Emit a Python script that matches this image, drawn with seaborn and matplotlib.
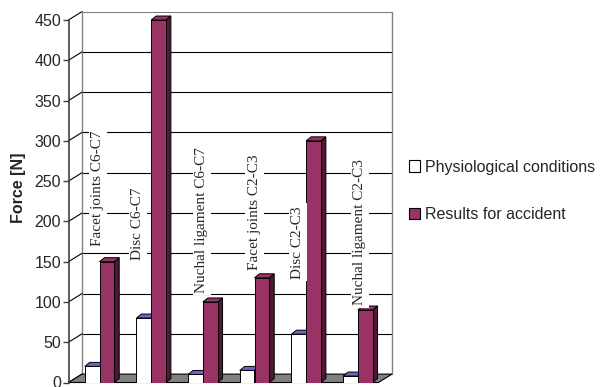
import numpy as np
import pandas as pd
import matplotlib
matplotlib.use("Agg")
import matplotlib.pyplot as plt
import seaborn as sns
from matplotlib.patches import Polygon, Patch

# ---------------- data ----------------
categories = ["Facet joints C6-C7", "Disc C6-C7", "Nuchal ligament C6-C7",
              "Facet joints C2-C3", "Disc C2-C3", "Nuchal ligament C2-C3"]
physiological = [20, 80, 10, 15, 60, 8]
accident = [150, 450, 100, 130, 300, 90]
series_names = ["Physiological conditions", "Results for accident"]
y_ticks = [0, 50, 100, 150, 200, 250, 300, 350, 400, 450]

# ---------------- layout / style ----------------
colors = ["#ffffff", "#993366"]
top_colors = ["#6666cc", "#993366"]
side_colors = ["#ffffff", "#4d1933"]
label_center_y = [241, 197, 202, 211, 174, 187]
label_shift_x = [-0.03, -0.255, -0.02, 0.0, -0.16, 0.04]

W, H = 602, 387
fig = plt.figure(figsize=(W / 100, H / 100), dpi=100)
sns.set_style("white")
plt.rcParams["font.family"] = ["Liberation Sans", "DejaVu Sans"]

x_left_px, x_right_px = 68.5, 378.5
y0_px, y450_px = 382.5, 20.0
ax = fig.add_axes([x_left_px / W, (H - y0_px) / H,
                   (x_right_px - x_left_px) / W, (y0_px - y450_px) / H])
ax.set_facecolor("none")

df = pd.DataFrame({
    "joint": categories * 2,
    "force": physiological + accident,
    "condition": [series_names[0]] * len(categories) + [series_names[1]] * len(categories),
})
sns.barplot(data=df, x="joint", y="force", hue="condition", order=categories,
            hue_order=series_names, palette=colors, saturation=1, width=0.57,
            edgecolor="black", linewidth=0.7, legend=False, ax=ax, errorbar=None)

ax.set_xlim(-0.6, 5.4)
ax.set_ylim(0, 450)
xmin, xmax = ax.get_xlim()

# 3D offsets in data units
px_per_x = (x_right_px - x_left_px) / (xmax - xmin)
px_per_y = (y0_px - y450_px) / 450
wdx, wdy = 13.5 / px_per_x, 8.4 / px_per_y   # back wall offset
bdx, bdy = 5.0 / px_per_x, 4.0 / px_per_y    # bar depth

# floor
floor = Polygon([(xmin, 0), (xmin + wdx, wdy), (xmax + wdx, wdy), (xmax, 0)],
                closed=True, facecolor="#808080", edgecolor="black", lw=0.8,
                zorder=1, clip_on=False)
ax.add_patch(floor)

# back wall gridlines and connectors
for v in y_ticks[1:]:
    col = "#808080" if v == y_ticks[-1] else "black"
    ax.plot([xmin + wdx, xmax + wdx], [v + wdy, v + wdy], color=col, lw=0.8,
            zorder=0.5, clip_on=False)
for v in y_ticks:
    ax.plot([xmin, xmin + wdx], [v, v + wdy], color="black", lw=0.8,
            zorder=0.6, clip_on=False)
for xe in (xmin + wdx, xmax + wdx):
    ax.plot([xe, xe], [wdy, y_ticks[-1] + wdy], color="#808080", lw=1.0,
            zorder=0.5, clip_on=False)

# bar depth
n = len(categories)
for i, p in enumerate(ax.patches[:2 * n]):
    s = i // n
    x0 = p.get_x()
    x1 = x0 + p.get_width()
    h = p.get_height()
    p.set_zorder(3 + s)
    top = Polygon([(x0, h), (x0 + bdx, h + bdy), (x1 + bdx, h + bdy), (x1, h)],
                  closed=True, facecolor=top_colors[s], edgecolor="black", lw=0.7,
                  zorder=2.9 + s, clip_on=False)
    side = Polygon([(x1, 0), (x1 + bdx, bdy), (x1 + bdx, h + bdy), (x1, h)],
                   closed=True, facecolor=side_colors[s], edgecolor="black", lw=0.7,
                   zorder=2.9 + s, clip_on=False)
    ax.add_patch(side)
    ax.add_patch(top)

# category labels
for i, name in enumerate(categories):
    ax.text(i + label_shift_x[i], label_center_y[i], name, rotation=90,
            ha="center", va="center", fontsize=11,
            family=["Liberation Serif", "DejaVu Serif"], zorder=10,
            bbox=dict(facecolor="white", edgecolor="none", pad=2.0))

# axes styling
for sp in ("top", "right", "bottom"):
    ax.spines[sp].set_visible(False)
ax.spines["left"].set_color("#404040")
ax.spines["left"].set_linewidth(1.2)
ax.spines["left"].set_zorder(6)
ax.set_yticks(y_ticks)
ax.set_yticklabels([str(v) for v in y_ticks])
ax.tick_params(axis="y", direction="out", length=4.3, width=1.0, color="#404040",
               labelsize=11.5, pad=1, left=True)
ax.set_xticks([])
ax.set_xlabel("")
ax.set_ylabel("")
fig.text(18.5 / W, 1 - 187.5 / H, "Force [N]", rotation=90, ha="center",
         va="center", fontsize=11.5, fontweight="bold")

# legend
handles = [Patch(facecolor=c, edgecolor="black", lw=0.8) for c in colors]
fig.legend(handles, series_names, loc="center left",
           bbox_to_anchor=(409 / W, 1 - 191 / H), frameon=False, fontsize=11.5,
           handlelength=0.7, handleheight=0.7, handletextpad=0.3,
           labelspacing=2.05, borderpad=0, borderaxespad=0)

fig.savefig("out.png", dpi=100)
